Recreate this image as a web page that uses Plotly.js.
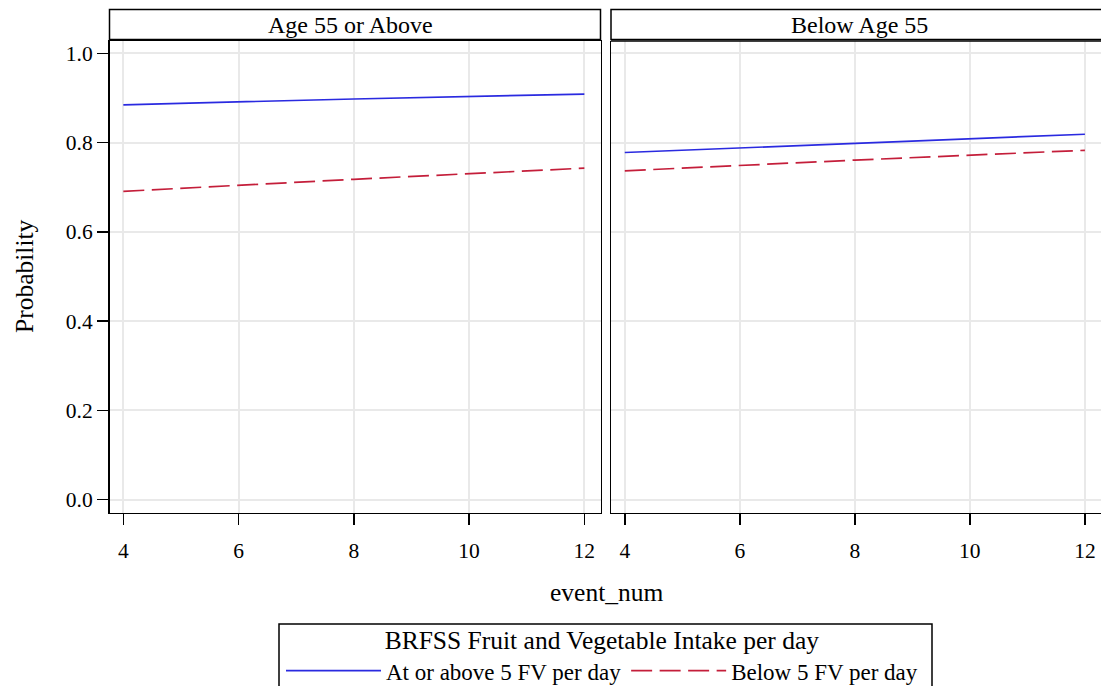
<!DOCTYPE html>
<html>
<head>
<meta charset="utf-8">
<script src="https://cdn.plot.ly/plotly-3.0.1.min.js"></script>
<style>
html,body{margin:0;padding:0;background:#fff;overflow:hidden;}
#wrap{width:1101px;height:686px;overflow:hidden;position:relative;}
#chart{width:1101px;height:700px;}
</style>
</head>
<body>
<div id="wrap"><div id="chart"></div></div>
<script>
// Data
const eventNum = [4, 8, 12];
const panels = ['Age 55 or Above', 'Below Age 55'];
const seriesNames = ['At or above 5 FV per day', 'Below 5 FV per day'];
const age55AboveAtOrAbove = [0.885, 0.898, 0.909];
const age55AboveBelow = [0.691, 0.718, 0.743];
const belowAge55AtOrAbove = [0.778, 0.799, 0.819];
const belowAge55Below = [0.737, 0.761, 0.783];
const xTicks = [4, 6, 8, 10, 12];
const yTicks = [0, 0.2, 0.4, 0.6, 0.8, 1.0];
const yTickText = ['0.0', '0.2', '0.4', '0.6', '0.8', '1.0'];

const FONT = 'Liberation Serif, Times New Roman, serif';
const blue = '#2a2ae0';
const red = '#c41e3a';
const DASH = '21px,7.5px';

const traces = [
  {x: eventNum, y: age55AboveAtOrAbove, xaxis: 'x', yaxis: 'y', mode: 'lines', name: seriesNames[0],
   line: {color: blue, width: 1.7}, legendgroup: 'a', showlegend: true},
  {x: eventNum, y: age55AboveBelow, xaxis: 'x', yaxis: 'y', mode: 'lines', name: seriesNames[1],
   line: {color: red, width: 1.7, dash: DASH}, legendgroup: 'b', showlegend: true},
  {x: eventNum, y: belowAge55AtOrAbove, xaxis: 'x2', yaxis: 'y2', mode: 'lines', name: seriesNames[0],
   line: {color: blue, width: 1.7}, legendgroup: 'a', showlegend: false},
  {x: eventNum, y: belowAge55Below, xaxis: 'x2', yaxis: 'y2', mode: 'lines', name: seriesNames[1],
   line: {color: red, width: 1.7, dash: DASH}, legendgroup: 'b', showlegend: false}
];

// The figure is drawn 700px tall inside a 686px window so that the legend frame
// runs off the bottom edge, as it does in the reference.
const W = 1101, H = 700;
const px = v => v / W;
const py = v => (H - v) / H;

const xL = [px(109.5), px(600.5)];
const xR = [px(611), 1.0];
const yDom = [py(512.5), py(41)];

const GRID = '#e9e9e9';
const common = {
  range: [3.76, 12.28], tickvals: xTicks, ticks: 'outside', ticklen: 11, tickwidth: 1.5, tickcolor: '#000',
  ticklabelstandoff: 7,
  showgrid: true, gridcolor: GRID, gridwidth: 2, zeroline: false,
  showline: true, linecolor: '#000', linewidth: 1.5,
  tickfont: {family: FONT, size: 21.5, color: '#000'}, automargin: false, fixedrange: true
};

const layout = {
  width: W, height: H,
  margin: {l: 0, r: 0, t: 0, b: 0},
  paper_bgcolor: '#fff', plot_bgcolor: '#fff',
  font: {family: FONT, color: '#000'},
  xaxis: Object.assign({}, common, {domain: xL, anchor: 'y', mirror: true}),
  xaxis2: Object.assign({}, common, {domain: xR, anchor: 'y2', mirror: false}),
  yaxis: {domain: yDom, range: [-0.029, 1.028], tickvals: yTicks, ticktext: yTickText, ticks: 'outside',
    ticklen: 11, tickwidth: 1.5, tickcolor: '#000', showgrid: true, gridcolor: GRID, gridwidth: 2,
    zeroline: false, showline: true, linecolor: '#000', linewidth: 1.5, mirror: true, anchor: 'x',
    tickfont: {family: FONT, size: 21.5, color: '#000'}, automargin: false, fixedrange: true},
  yaxis2: {domain: yDom, range: [-0.029, 1.028], tickvals: yTicks, showticklabels: false, ticks: '',
    showgrid: true, gridcolor: GRID, gridwidth: 2, zeroline: false, showline: true,
    linecolor: '#000', linewidth: 1.5, mirror: false, anchor: 'x2', automargin: false, fixedrange: true},
  shapes: [
    {type: 'rect', xref: 'paper', yref: 'paper', x0: xL[0], x1: xL[1], y0: py(39.5), y1: py(9.5),
     line: {color: '#000', width: 1.5}, fillcolor: 'rgba(0,0,0,0)'},
    {type: 'rect', xref: 'paper', yref: 'paper', x0: xR[0], x1: 1.002, y0: py(39.5), y1: py(9.5),
     line: {color: '#000', width: 1.5}, fillcolor: 'rgba(0,0,0,0)'},
    {type: 'line', xref: 'paper', yref: 'paper', x0: xR[0], x1: 1.0, y0: yDom[1], y1: yDom[1],
     line: {color: '#000', width: 1.5}},
    {type: 'rect', xref: 'paper', yref: 'paper', x0: px(279), x1: px(932), y0: py(710), y1: py(624),
     line: {color: '#000', width: 1.5}, fillcolor: 'rgba(0,0,0,0)'}
  ],
  annotations: [
    {text: panels[0], xref: 'paper', yref: 'paper', x: px(350), y: py(24.5),
     xanchor: 'center', yanchor: 'middle', showarrow: false, font: {family: FONT, size: 24, color: '#000'}},
    {text: panels[1], xref: 'paper', yref: 'paper', x: px(859), y: py(24.5),
     xanchor: 'center', yanchor: 'middle', showarrow: false, font: {family: FONT, size: 24, color: '#000'}},
    {text: 'Probability', xref: 'paper', yref: 'paper', x: px(25), y: py(276),
     xanchor: 'center', yanchor: 'middle', textangle: -90, showarrow: false,
     font: {family: FONT, size: 25.5, color: '#000'}},
    {text: 'event_num', xref: 'paper', yref: 'paper', x: px(606), y: py(592),
     xanchor: 'center', yanchor: 'middle', showarrow: false, font: {family: FONT, size: 25.5, color: '#000'}}
  ],
  showlegend: true,
  legend: {
    orientation: 'h', x: px(281), xanchor: 'left', y: py(616), yanchor: 'top',
    borderwidth: 0, bgcolor: 'rgba(0,0,0,0)',
    font: {family: FONT, size: 23, color: '#000'},
    title: {text: 'BRFSS Fruit and Vegetable Intake per day', side: 'top center',
      font: {family: FONT, size: 25.5, color: '#000'}},
    traceorder: 'normal', itemwidth: 95
  }
};

Plotly.newPlot('chart', traces, layout, {displayModeBar: false, staticPlot: true});
</script>
</body>
</html>
